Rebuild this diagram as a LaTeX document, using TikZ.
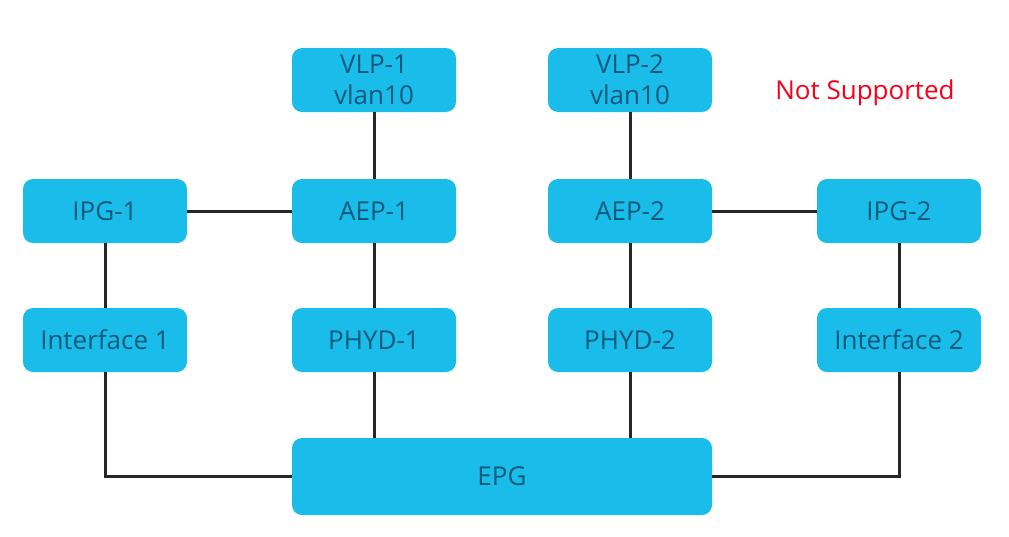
\documentclass[tikz,border=0pt]{standalone}
\usepackage{fontspec}
\setmainfont{Open Sans}
\definecolor{boxfill}{HTML}{1ABDE9}
\definecolor{boxtext}{HTML}{0E5A7C}
\definecolor{linec}{HTML}{262626}
\definecolor{redtxt}{HTML}{F5001A}
\begin{document}
\begin{tikzpicture}[x=1pt,y=-1pt,
  box/.style={draw=none,fill=boxfill,rounded corners=10pt,minimum width=164pt,minimum height=64pt,
    inner sep=0pt,text=boxtext,font=\fontsize{26}{31}\selectfont,align=center},
  conn/.style={draw=linec,line width=3pt}]
\useasboundingbox (0,0) rectangle (1009,536);
\node[box] (vlp1) at (374,80) {VLP-1\\vlan10};
\node[box] (vlp2) at (630,80) {VLP-2\\vlan10};
\node[box] (ipg1) at (105,211) {IPG-1};
\node[box] (aep1) at (374,211) {AEP-1};
\node[box] (aep2) at (630,211) {AEP-2};
\node[box] (ipg2) at (899,211) {IPG-2};
\node[box] (if1) at (105,340) {Interface 1};
\node[box] (phyd1) at (374,340) {PHYD-1};
\node[box] (phyd2) at (630,340) {PHYD-2};
\node[box] (if2) at (899,340) {Interface 2};
\node[box,minimum width=420pt,minimum height=77pt] (epg) at (502,476.5) {EPG};
\node[text=redtxt,font=\fontsize{26}{30}\selectfont,inner sep=0pt] (ns) at (865,93) {Not Supported};
\draw[conn] (vlp1) -- (aep1);
\draw[conn] (vlp2) -- (aep2);
\draw[conn] (ipg1) -- (aep1);
\draw[conn] (aep2) -- (ipg2);
\draw[conn] (ipg1) -- (if1);
\draw[conn] (ipg2) -- (if2);
\draw[conn] (aep1) -- (phyd1);
\draw[conn] (aep2) -- (phyd2);
\draw[conn] (phyd1) -- (phyd1 |- epg.north);
\draw[conn] (phyd2) -- (phyd2 |- epg.north);
\draw[conn] (if1.south) |- (epg.west);
\draw[conn] (if2.south) |- (epg.east);
\end{tikzpicture}
\end{document}
